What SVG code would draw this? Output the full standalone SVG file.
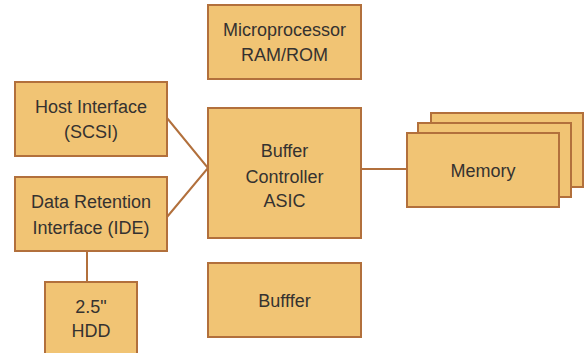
<svg xmlns="http://www.w3.org/2000/svg" width="585" height="353" viewBox="0 0 585 353">
<style>
.box{fill:#F1C474;stroke:#B2703C;stroke-width:2}
.t{font-family:"Liberation Sans",Arial,sans-serif;font-size:18px;fill:#353230;text-anchor:middle}
.c{fill:none;stroke:#B2703C;stroke-width:2}
</style>
<rect width="585" height="353" fill="#fff"/>
<g id="connectors">
<polyline class="c" points="167,118 208,168 167,217"/>
<line class="c" x1="361" y1="169" x2="407" y2="169"/>
<line class="c" x1="87" y1="251" x2="87" y2="282"/>
</g>
<g id="microprocessor">
<rect class="box" x="208" y="5" width="153" height="74"/>
<text class="t" x="284.5" y="36">Microprocessor</text>
<text class="t" x="284.5" y="61">RAM/ROM</text>
</g>
<g id="host">
<rect class="box" x="15" y="82" width="152" height="74"/>
<text class="t" x="91" y="113">Host Interface</text>
<text class="t" x="91" y="138">(SCSI)</text>
</g>
<g id="data">
<rect class="box" x="15" y="177" width="152" height="74"/>
<text class="t" x="91" y="208">Data Retention</text>
<text class="t" x="91" y="234">Interface (IDE)</text>
</g>
<g id="controller">
<rect class="box" x="208" y="108" width="153" height="130"/>
<text class="t" x="284.5" y="157">Buffer</text>
<text class="t" x="284.5" y="183">Controller</text>
<text class="t" x="284.5" y="207">ASIC</text>
</g>
<g id="memory">
<rect class="box" x="431" y="113" width="152" height="74"/>
<rect class="box" x="418" y="123" width="153" height="74"/>
<rect class="box" x="407" y="133" width="152" height="74"/>
<text class="t" x="483" y="177">Memory</text>
</g>
<g id="hdd">
<rect class="box" x="45" y="282" width="92" height="80"/>
<text class="t" x="91" y="313">2.5"</text>
<text class="t" x="91" y="337">HDD</text>
</g>
<g id="buffer">
<rect class="box" x="208" y="263" width="153" height="74"/>
<text class="t" x="284.5" y="307">Bufffer</text>
</g>
</svg>
